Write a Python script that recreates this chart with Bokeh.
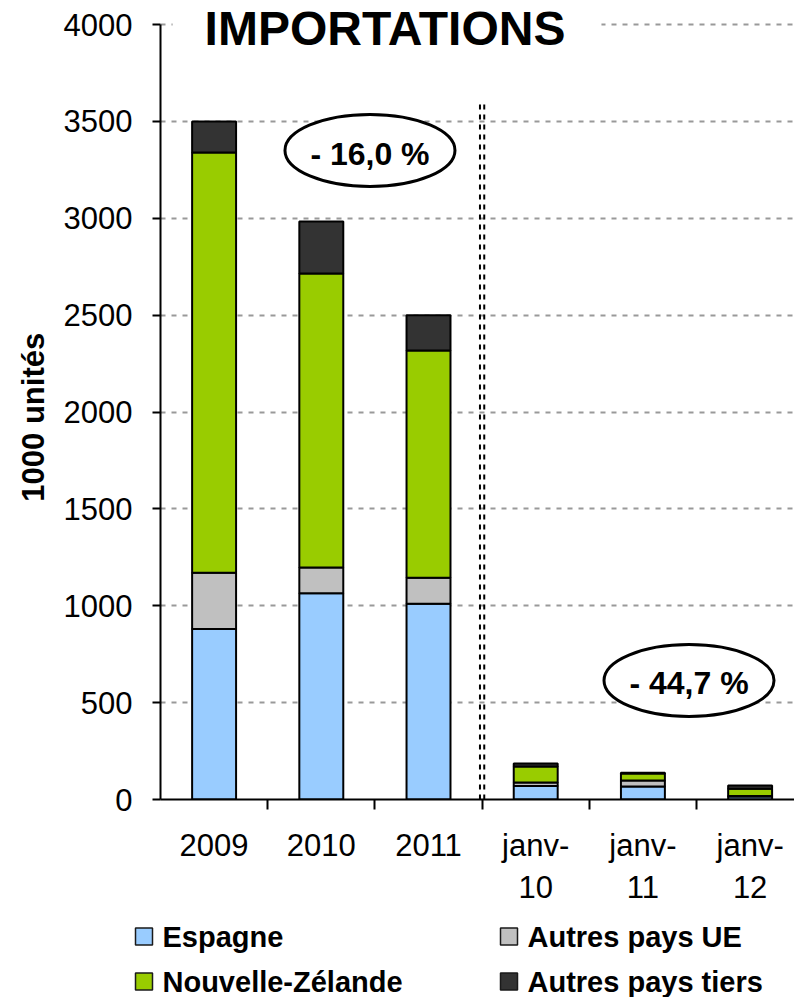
from bokeh.plotting import figure
from bokeh.layouts import column
from bokeh.models import ColumnDataSource, Range1d, FixedTicker, Label
from bokeh.core.properties import value
from bokeh.embed import file_html
from bokeh.resources import INLINE

# ---- data ----
categories = ["2009", "2010", "2011", "janv-\n10", "janv-\n11", "janv-\n12"]
series_names = ["Espagne", "Autres pays UE", "Nouvelle-Zélande", "Autres pays tiers"]
espagne = [880, 1065, 1010, 70, 67, 15]
autres_ue = [290, 132, 135, 18, 31, 3]
nouvelle_zelande = [2170, 1518, 1172, 82, 36, 37]
autres_tiers = [160, 268, 183, 16, 4, 17]
colors = ["#99CCFF", "#C0C0C0", "#99CC00", "#333333"]
y_ticks = [0, 500, 1000, 1500, 2000, 2500, 3000, 3500, 4000]
change_labels = ["- 16,0 %", "- 44,7 %"]
title_text = "IMPORTATIONS"
y_label = "1000 unités"

FONT = "Liberation Sans"

x = [i + 0.5 for i in range(len(categories))]
keys = ["esp", "ue", "nz", "tiers"]
source = ColumnDataSource(dict(x=x, esp=espagne, ue=autres_ue, nz=nouvelle_zelande, tiers=autres_tiers))

# frame spans the full top of the canvas so the title is not clipped;
# the axis itself is bounded to 0..4000
y_top = 4000 + 4000 * 24 / 775
p = figure(width=794, height=910, output_backend="svg", toolbar_location=None,
           x_range=Range1d(0, 5.914), y_range=Range1d(0, y_top),
           min_border_left=160, min_border_right=0, min_border_top=0, min_border_bottom=111)
p.outline_line_color = None
p.background_fill_color = "white"
p.frame_align = False

# grid
p.xgrid.visible = False
p.ygrid.ticker = FixedTicker(ticks=y_ticks)
p.ygrid.grid_line_color = "#999999"
p.ygrid.grid_line_dash = "5 6"
p.ygrid.grid_line_width = 2

# bars
renderers = p.vbar_stack(keys, x="x", width=0.41, source=source,
                         fill_color=colors, line_color="black", line_width=2)

# separator (double dashed line)
p.segment(x0=[3 - 0.02, 3 + 0.02], y0=[0, 0], x1=[3 - 0.02, 3 + 0.02], y1=[3600, 3600],
          line_color="black", line_width=2, line_dash="5 5")

# ovals with percentage changes
p.ellipse(x=[1.954, 4.93], y=[3350, 614], width=170, height=72,
          width_units="screen", height_units="screen",
          fill_color="white", line_color="black", line_width=3)
p.text(x=[1.954, 4.93], y=[3334, 599], text=change_labels,
       text_font=value(FONT), text_font_style="bold", text_font_size="32px",
       text_align="center", text_baseline="middle", text_color="black")

# title
title = Label(x=2.113, y=3977, text=title_text, text_font=FONT, text_font_style="bold",
              text_font_size="48px", text_align="center", text_baseline="middle",
              text_color="black", background_fill_color="white",
              padding=dict(left=32, right=36, top=0, bottom=0))
p.add_layout(title)

# y axis
ya = p.yaxis[0]
ya.bounds = (0, 4000)
ya.ticker = FixedTicker(ticks=y_ticks)
ya.major_label_text_font = FONT
ya.major_label_text_font_size = "31px"
ya.major_label_text_color = "black"
ya.axis_line_width = 2
ya.axis_line_color = "black"
ya.major_tick_line_width = 2
ya.major_tick_line_color = "black"
ya.major_tick_out = 8
ya.major_tick_in = 0
ya.minor_tick_line_color = None
ya.major_label_standoff = 20
# trailing no-break spaces centre the label on the 0..4000 axis rather than the taller frame
ya.axis_label = y_label + "\u00a0" * 4
ya.axis_label_text_font = FONT
ya.axis_label_text_font_style = "bold"
ya.axis_label_text_font_size = "31px"
ya.axis_label_text_color = "black"
ya.axis_label_standoff = 10

# x axis
xa = p.xaxis[0]
xa.ticker = FixedTicker(ticks=x, minor_ticks=[1, 2, 3, 4, 5])
xa.major_label_overrides = {xi: c for xi, c in zip(x, categories)}
xa.major_label_text_font = FONT
xa.major_label_text_font_size = "31px"
xa.major_label_text_color = "black"
xa.major_label_text_line_height = 1.2
xa.major_tick_line_color = None
xa.major_tick_out = 0
xa.major_tick_in = 0
xa.minor_tick_out = 10
xa.minor_tick_in = 0
xa.minor_tick_line_width = 2
xa.minor_tick_line_color = "black"
xa.axis_line_width = 2
xa.axis_line_color = "black"
xa.major_label_standoff = 18

# ---- legend panel (pixel coordinates) ----
lg = figure(width=794, height=87, output_backend="svg", toolbar_location=None,
            x_range=Range1d(0, 794), y_range=Range1d(0, 87),
            x_axis_location=None, y_axis_location=None,
            min_border_left=0, min_border_right=0, min_border_top=0, min_border_bottom=0)
lg.outline_line_color = None
lg.grid.visible = False
lg.frame_align = False

leg_x = [143.5, 508.5, 143.5, 508.5]
leg_y = [61, 61, 16, 16]
leg_order = [0, 1, 2, 3]
lg.rect(x=leg_x, y=leg_y, width=17, height=17,
        fill_color=[colors[i] for i in leg_order], line_color="#1a1a1a", line_width=1.5)
lg.text(x=[v + 18.5 for v in leg_x], y=leg_y, text=[series_names[i] for i in leg_order],
        text_font=value(FONT), text_font_style="bold", text_font_size="29px",
        text_align="left", text_baseline="middle", text_color="black")

layout = column(p, lg, spacing=0)
open("out.html", "w").write(file_html(layout, INLINE))
